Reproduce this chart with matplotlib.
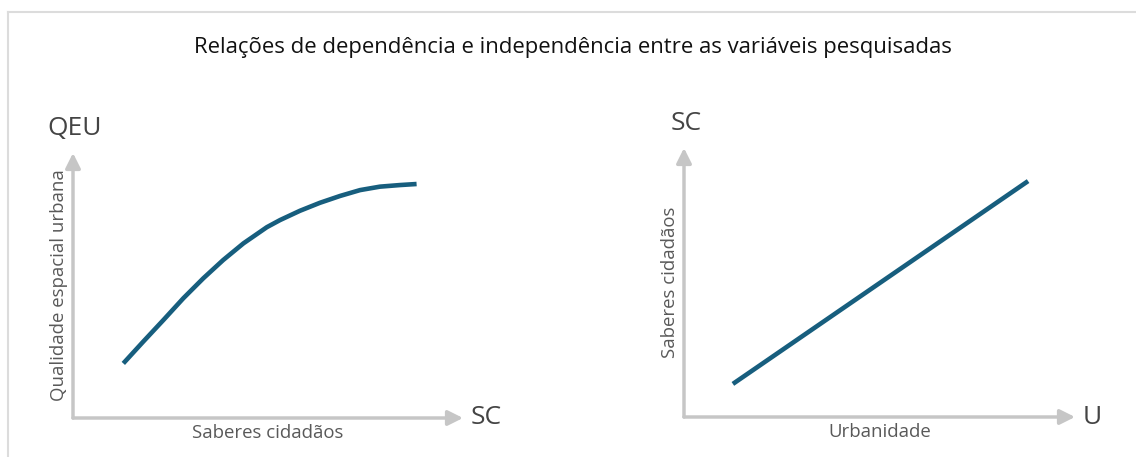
import numpy as np
import matplotlib
matplotlib.use('Agg')
import matplotlib.pyplot as plt
from matplotlib.lines import Line2D

plt.rcParams['font.family'] = ['Open Sans', 'DejaVu Sans']

# data (abstract units 0..10 on each axis)
qeu_x = [1.29, 1.80, 2.32, 2.83, 3.34, 3.85, 4.37, 4.97, 5.31, 5.82, 6.33, 6.85, 7.36, 7.87, 8.38, 8.81]
qeu_y = [2.06, 2.88, 3.70, 4.52, 5.27, 5.96, 6.59, 7.20, 7.47, 7.82, 8.12, 8.38, 8.60, 8.73, 8.79, 8.83]
sc_x = [1.25, 8.80]
sc_y = [1.23, 8.77]

title = 'Relações de dependência e independência entre as variáveis pesquisadas'
panels = [
    dict(x=qeu_x, y=qeu_y, xname='SC', yname='QEU',
         xlabel='Saberes cidadãos', ylabel='Qualidade espacial urbana'),
    dict(x=sc_x, y=sc_y, xname='U', yname='SC',
         xlabel='Urbanidade', ylabel='Saberes cidadãos'),
]

W, H = 1136, 457
line_color = '#175e7e'
axis_color = '#c6c6c6'
text_color = '#595959'

fig = plt.figure(figsize=(W / 100, H / 100), dpi=100)
fig.patch.set_facecolor('white')

# light frame (top and left)
fig.add_artist(Line2D([8 / W, 1], [1 - 11.5 / H, 1 - 11.5 / H], transform=fig.transFigure, color='#dcdcdc', lw=1.5))
fig.add_artist(Line2D([8 / W, 8 / W], [0, 1 - 11.5 / H], transform=fig.transFigure, color='#dcdcdc', lw=1.5))

fig.text(573 / W, 1 - 47 / H, title, ha='center', va='center', fontsize=15.9, color='#111111')

# pixel boxes: origin x, origin y, arrow tip x, arrow top y
boxes = [(73, 418, 463, 153), (684, 417, 1075, 148)]

for p, (ox, oy, tx, ty) in zip(panels, boxes):
    ax = fig.add_axes([ox / W, 1 - oy / H, (tx - ox) / W, (oy - ty) / H])
    ax.set_xlim(0, 10)
    ax.set_ylim(0, 10)
    ax.axis('off')
    arrow = dict(arrowstyle='-|>,head_length=0.9,head_width=0.45', color=axis_color, lw=2.5,
                 shrinkA=0, shrinkB=0)
    ax.annotate('', xy=(10, 0), xytext=(0, 0), arrowprops=arrow, annotation_clip=False)
    ax.annotate('', xy=(0, 10), xytext=(0, 0), arrowprops=arrow, annotation_clip=False)
    ax.plot(p['x'], p['y'], color=line_color, lw=3.3, solid_capstyle='butt',
            solid_joinstyle='round')
    ax.text(10.2, 0, p['xname'], ha='left', va='center', fontsize=19, color='#444444')
    ax.text(0.05, 10.92, p['yname'], ha='center', va='center', fontsize=19, color='#444444')
    ax.text(5, -0.57, p['xlabel'], ha='center', va='center', fontsize=13.4, color=text_color)
    ax.text(-0.36, 5, p['ylabel'], ha='center', va='center', rotation=90, fontsize=13.4, color=text_color)

fig.savefig('out.png', dpi=100)
